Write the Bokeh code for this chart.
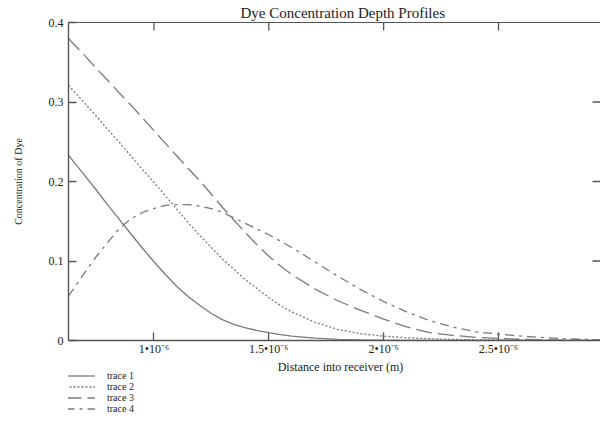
import math
from bokeh.plotting import figure
from bokeh.layouts import column
from bokeh.models import Range1d, FixedTicker, LinearAxis, Legend, LegendItem, Title
from bokeh.core.properties import value
from bokeh.embed import file_html
from bokeh.resources import INLINE

# ---------------- data ----------------
title_text = "Dye Concentration Depth Profiles"
x_label = "Distance into receiver (m)"
y_label = "Concentration of Dye"

x_um = [0.628, 0.65, 0.7, 0.75, 0.8, 0.85, 0.9, 0.95, 1.0, 1.05, 1.1, 1.15, 1.2,
        1.25, 1.3, 1.35, 1.4, 1.45, 1.5, 1.55, 1.6,
        1.7, 1.8, 1.9, 2.0, 2.1, 2.2, 2.3, 2.4, 2.5, 2.6, 2.7, 2.8, 2.9, 2.98]
trace1 = [0.233, 0.225, 0.207, 0.189, 0.170, 0.152, 0.134, 0.116, 0.099, 0.083,
          0.068, 0.055, 0.044, 0.034, 0.026, 0.020, 0.016, 0.0125, 0.0098, 0.0075,
          0.0055,
          0.003, 0.0015, 0.0007, 0.0003, 0.0001, 0, 0, 0, 0, 0, 0, 0, 0, 0]
trace2 = [0.321, 0.314, 0.298, 0.282, 0.265, 0.249, 0.232, 0.215, 0.199, 0.182,
          0.165, 0.148, 0.132, 0.117, 0.102, 0.089, 0.076, 0.065, 0.054, 0.044,
          0.036,
          0.023, 0.014, 0.0085, 0.0055, 0.0035, 0.0022, 0.0014, 0.0009, 0.0005,
          0.0003, 0.0002, 0.0001, 0, 0]
trace3 = [0.380, 0.373, 0.358, 0.342, 0.327, 0.311, 0.296, 0.280, 0.264, 0.248,
          0.232, 0.216, 0.201, 0.184, 0.167, 0.151, 0.135, 0.120, 0.106, 0.094,
          0.083,
          0.065, 0.050, 0.038, 0.027, 0.017, 0.010, 0.0065, 0.004, 0.0025,
          0.0015, 0.0008, 0.0004, 0.0002, 0.0001]
trace4 = [0.056, 0.065, 0.086, 0.106, 0.124, 0.141, 0.153, 0.161, 0.166, 0.170,
          0.171, 0.171, 0.169, 0.166, 0.161, 0.154, 0.147, 0.140, 0.133, 0.125,
          0.117,
          0.099, 0.081, 0.064, 0.049, 0.036, 0.025, 0.017, 0.011, 0.008,
          0.0055, 0.0035, 0.002, 0.0012, 0.0008]
trace_names = ["trace 1", "trace 2", "trace 3", "trace 4"]

x_ticks = [1e-6, 1.5e-6, 2e-6, 2.5e-6]
x_tick_labels = ["1\u202210\u207b\u2076", "1.5\u202210\u207b\u2076",
                 "2\u202210\u207b\u2076", "2.5\u202210\u207b\u2076"]
y_ticks = [0, 0.1, 0.2, 0.3, 0.4]
y_tick_labels = ["0", "0.1", "0.2", "0.3", "0.4"]
right_ticks = [0.1, 0.2, 0.3]

x_start, x_end = 0.628e-6, 2.944e-6
y_start, y_end = 0.0, 0.4

# ---------------- style ----------------
FONT = "Liberation Serif"
TXT = "#222222"
AX = "#555555"
LC = "#7a7a7a"
dashes = ["solid", "2 2", "16 6", "9 5 3 5"]
TICK_LEN = 8

xs = [v * 1e-6 for v in x_um]

P_H = 358
Q_H = 414 - P_H

p = figure(width=600, height=P_H, output_backend="svg", toolbar_location=None,
           x_range=Range1d(x_start, x_end), y_range=Range1d(y_start, y_end),
           x_axis_type=None, y_axis_type=None,
           min_border_left=68, min_border_right=0, min_border_top=22,
           min_border_bottom=18)
p.outline_line_color = None
p.xgrid.visible = False
p.ygrid.visible = False
p.background_fill_color = "white"
p.border_fill_color = "white"

p.title = Title(text=title_text, align="left", offset=172, standoff=3,
                text_font=FONT, text_font_size="15px", text_font_style="normal",
                text_color=TXT)


def style_axis(ax, ticks):
    ax.ticker = FixedTicker(ticks=ticks)
    ax.minor_tick_line_color = None
    ax.major_tick_in = TICK_LEN
    ax.major_tick_out = 0
    ax.major_tick_line_color = AX
    ax.major_tick_line_width = 1.3
    ax.axis_line_color = AX
    ax.axis_line_width = 1.4
    ax.major_label_text_font = FONT
    ax.major_label_text_font_size = "12px"
    ax.major_label_text_color = TXT
    return ax


left = LinearAxis(axis_label=y_label)
style_axis(left, y_ticks)
left.major_label_overrides = {v: s for v, s in zip(y_ticks, y_tick_labels)}
left.major_label_standoff = 5
left.axis_label_text_font = FONT
left.axis_label_text_font_size = "10px"
left.axis_label_text_font_style = "normal"
left.axis_label_text_color = TXT
left.axis_label_standoff = 22
p.add_layout(left, "left")

bottom = LinearAxis()
style_axis(bottom, x_ticks)
bottom.major_label_overrides = {v: s for v, s in zip(x_ticks, x_tick_labels)}
bottom.major_label_standoff = 1
p.add_layout(bottom, "below")

# top frame line (no labels), its ticks drawn as short inward rays
top = LinearAxis(ticker=FixedTicker(ticks=[]), axis_line_color=AX, axis_line_width=1.1,
                 minor_tick_line_color=None, major_tick_line_color=None)
p.add_layout(top, "above")

p.ray(x=x_ticks, y=[y_end] * len(x_ticks), length=TICK_LEN, length_units="screen",
      angle=-math.pi / 2, line_color=AX, line_width=1.3)
p.ray(x=[x_end] * len(right_ticks), y=right_ticks, length=TICK_LEN, length_units="screen",
      angle=math.pi, line_color=AX, line_width=1.3)

for ys, dash in zip([trace1, trace2, trace3, trace4], dashes):
    p.line(xs, ys, line_color=LC, line_width=1.3, line_dash=dash)

# ------------- strip below the chart: x-axis title and legend -------------
# (its frame is aligned with the chart frame by the column layout; units = px)
q = figure(width=600, height=Q_H, output_backend="svg", toolbar_location=None,
           x_range=Range1d(0, 532), y_range=Range1d(0, Q_H),
           x_axis_type=None, y_axis_type=None,
           min_border_left=0, min_border_right=0, min_border_top=0,
           min_border_bottom=0)
q.outline_line_color = None
q.xgrid.visible = False
q.ygrid.visible = False
q.background_fill_color = "white"
q.border_fill_color = "white"

q.text(x=[272], y=[Q_H - 8], text=[x_label], text_font=value(FONT),
       text_font_size="12px", text_color=TXT, text_align="center",
       text_baseline="alphabetic")

legend_renderers = [q.line([-100, -90], [-100, -90], line_color=LC, line_width=1.3,
                           line_dash=d) for d in dashes]
legend = Legend(items=[LegendItem(label=n, renderers=[r])
                       for n, r in zip(trace_names, legend_renderers)],
                location=(-3, 0), orientation="vertical",
                glyph_width=30, glyph_height=11, spacing=0, padding=0, margin=0,
                label_standoff=12, label_height=11,
                label_text_font=FONT, label_text_font_size="10px", label_text_color=TXT,
                border_line_color=None, background_fill_alpha=0)
q.add_layout(legend, "center")

layout = column(p, q, spacing=0)
open("out.html", "w").write(file_html(layout, INLINE))
